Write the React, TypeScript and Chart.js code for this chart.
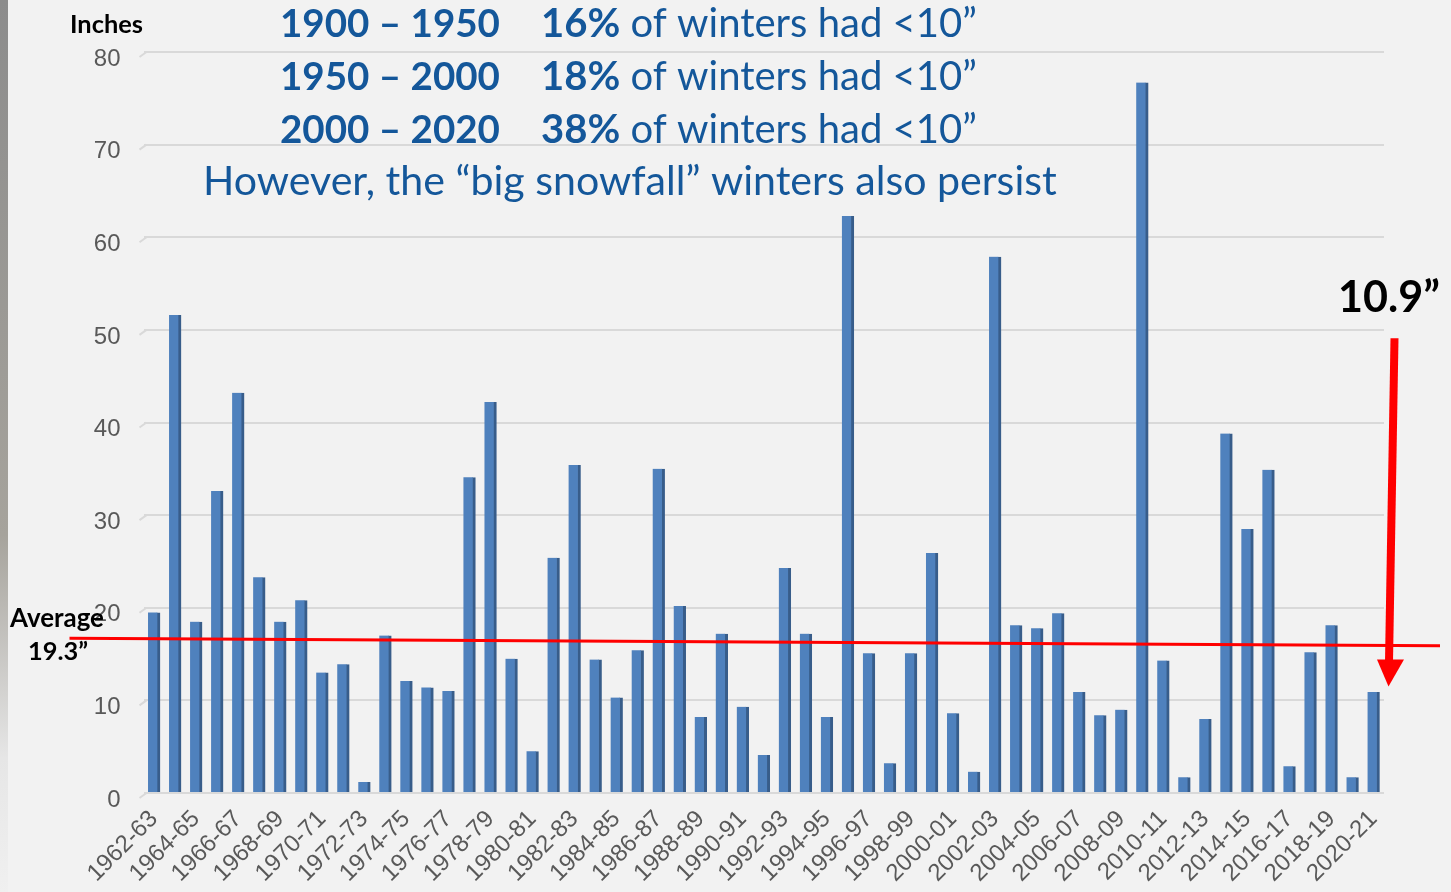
import React, { useEffect, useRef } from "react";
import { Chart, registerables } from "chart.js";

Chart.register(...registerables);

const seasons = [
  "1962-63", "1963-64", "1964-65", "1965-66", "1966-67", "1967-68", "1968-69", "1969-70",
  "1970-71", "1971-72", "1972-73", "1973-74", "1974-75", "1975-76", "1976-77", "1977-78",
  "1978-79", "1979-80", "1980-81", "1981-82", "1982-83", "1983-84", "1984-85", "1985-86",
  "1986-87", "1987-88", "1988-89", "1989-90", "1990-91", "1991-92", "1992-93", "1993-94",
  "1994-95", "1995-96", "1996-97", "1997-98", "1998-99", "1999-00", "2000-01", "2001-02",
  "2002-03", "2003-04", "2004-05", "2005-06", "2006-07", "2007-08", "2008-09", "2009-10",
  "2010-11", "2011-12", "2012-13", "2013-14", "2014-15", "2015-16", "2016-17", "2017-18",
  "2018-19", "2019-20", "2020-21",
];

const snowfallInches = [
  19.5, 51.6, 18.5, 32.6, 43.2, 23.3, 18.5, 20.8, 13.0, 13.9,
  1.2, 17.0, 12.1, 11.4, 11.0, 34.1, 42.2, 14.5, 4.5, 25.4,
  35.4, 14.4, 10.3, 15.4, 35.0, 20.2, 8.2, 17.2, 9.3, 4.1,
  24.3, 17.2, 8.2, 62.3, 15.1, 3.2, 15.1, 25.9, 8.6, 2.3,
  57.9, 18.1, 17.8, 19.4, 10.9, 8.4, 9.0, 76.7, 14.3, 1.7,
  8.0, 38.8, 28.5, 34.9, 2.9, 15.2, 18.1, 1.7, 10.9,
];

const yAxisMin = 0;
const yAxisMax = 80;
const yAxisStep = 10;
const yAxisTitle = "Inches";

// red "average" line as drawn in the slide (start / end values on the y scale)
const averageLineValues = [16.7, 15.9];
const averageLabelLines = ["Average", "19.3”"];

// red arrow pointing at the latest season
const arrowValues = [49.1, 11.5];
const latestLabel = "10.9”";

const periodLabels = ["1900 – 1950", "1950 – 2000", "2000 – 2020"];
const periodShares = ["16%", "18%", "38%"];
const periodSuffix = " of winters had <10”";
const closingNote = "However, the “big snowfall” winters also persist";

const BLUE_TEXT = "#14579a";
const TEXT_FAMILY = "Lato, 'Noto Sans', sans-serif";

type Seg = { text: string; bold: boolean };

function drawFitted(
  ctx: CanvasRenderingContext2D,
  segs: Seg[],
  x: number,
  baseline: number,
  targetWidth: number,
  color: string
) {
  const base = 40;
  let w = 0;
  segs.forEach((s) => {
    ctx.font = `${s.bold ? "bold " : ""}${base}px ${TEXT_FAMILY}`;
    w += ctx.measureText(s.text).width;
  });
  const size = (base * targetWidth) / w;
  let cx = x;
  ctx.fillStyle = color;
  ctx.textAlign = "left";
  ctx.textBaseline = "alphabetic";
  segs.forEach((s) => {
    ctx.font = `${s.bold ? "bold " : ""}${size}px ${TEXT_FAMILY}`;
    ctx.fillText(s.text, cx, baseline);
    cx += ctx.measureText(s.text).width;
  });
}

const overlayPlugin = {
  id: "overlay",
  afterDraw(chart: any) {
    const ctx: CanvasRenderingContext2D = chart.ctx;
    const y = chart.scales.y;
    const area = chart.chartArea;
    ctx.save();

    // 3D-style slanted stubs at the left of each gridline
    ctx.strokeStyle = "#d9d9d9";
    ctx.lineWidth = 2;
    for (let v = yAxisMin; v <= yAxisMax; v += yAxisStep) {
      const py = y.getPixelForValue(v);
      ctx.beginPath();
      ctx.moveTo(area.left - 4, py + 5);
      ctx.lineTo(area.left + 3, py);
      ctx.stroke();
    }

    // average line
    ctx.strokeStyle = "#ff0000";
    ctx.lineWidth = 3;
    ctx.beginPath();
    ctx.moveTo(area.left - 74, y.getPixelForValue(averageLineValues[0]));
    ctx.lineTo(area.right + 56, y.getPixelForValue(averageLineValues[1]));
    ctx.stroke();

    // arrow
    const top = y.getPixelForValue(arrowValues[0]);
    const tip = y.getPixelForValue(arrowValues[1]);
    const headTop = tip - 27;
    ctx.strokeStyle = "#ff0000";
    ctx.lineWidth = 8;
    ctx.beginPath();
    ctx.moveTo(area.right + 10.5, top);
    ctx.lineTo(area.right + 5, headTop + 2);
    ctx.stroke();
    ctx.fillStyle = "#ff0000";
    ctx.beginPath();
    ctx.moveTo(area.right - 7, headTop);
    ctx.lineTo(area.right + 20, headTop);
    ctx.lineTo(area.right + 4.5, tip);
    ctx.closePath();
    ctx.fill();

    // texts
    drawFitted(ctx, [{ text: yAxisTitle, bold: true }], 70, 33, 73, "#000000");
    const baselines = [37, 90, 143];
    periodLabels.forEach((p, i) => {
      drawFitted(ctx, [{ text: p, bold: true }], 280, baselines[i], 220, BLUE_TEXT);
      drawFitted(
        ctx,
        [
          { text: periodShares[i], bold: true },
          { text: periodSuffix, bold: false },
        ],
        541,
        baselines[i],
        436,
        BLUE_TEXT
      );
    });
    drawFitted(ctx, [{ text: closingNote, bold: false }], 203, 195, 854, BLUE_TEXT);
    drawFitted(ctx, [{ text: latestLabel, bold: true }], 1338, 312, 102, "#000000");
    drawFitted(ctx, [{ text: averageLabelLines[0], bold: true }], 10, 627, 94, "#000000");
    drawFitted(ctx, [{ text: averageLabelLines[1], bold: true }], 28, 660, 60, "#000000");

    ctx.restore();
  },
};

export default function App() {
  const canvasRef = useRef<HTMLCanvasElement | null>(null);

  useEffect(() => {
    document.body.style.margin = "0";
    document.body.style.background = "#f2f2f2";
    const canvas = canvasRef.current;
    if (!canvas) return;
    const chart = new Chart(canvas, {
      type: "bar",
      data: {
        labels: seasons,
        datasets: [
          {
            label: "Snowfall",
            data: snowfallInches,
            backgroundColor: "#4f81bd",
            borderColor: "#385d8a",
            borderWidth: { left: 0, right: 3, top: 0, bottom: 0 },
            borderSkipped: "start",
            barThickness: 12,
          },
        ],
      },
      options: {
        animation: false,
        responsive: false,
        maintainAspectRatio: false,
        layout: { padding: { left: 0, right: 67, top: 52, bottom: 0 } },
        plugins: {
          legend: { display: false },
          title: { display: false },
          tooltip: { enabled: false },
        },
        scales: {
          x: {
            afterFit: (scale: any) => {
              scale.height = 99;
            },
            grid: { display: false },
            border: { display: false },
            ticks: {
              autoSkip: false,
              maxRotation: 45,
              minRotation: 45,
              padding: 4,
              color: "#595959",
              font: { family: "'Liberation Sans', Arial, sans-serif", size: 24 },
              callback: (_v: any, i: number) => (i % 2 === 0 ? seasons[i] : ""),
            },
          },
          y: {
            min: yAxisMin,
            max: yAxisMax,
            afterFit: (scale: any) => {
              scale.width = 143.5;
            },
            border: { display: false },
            grid: { color: "#d9d9d9", lineWidth: 2, drawTicks: false },
            ticks: {
              stepSize: yAxisStep,
              padding: 23,
              labelOffset: 7,
              color: "#595959",
              font: { family: "'Liberation Sans', Arial, sans-serif", size: 24 },
            },
          },
        },
      },
      plugins: [overlayPlugin],
    });
    return () => chart.destroy();
  }, []);

  return (
    <div
      style={{
        position: "relative",
        width: 1451,
        height: 892,
        background: "#f2f2f2",
        overflow: "hidden",
      }}
    >
      <div
        style={{
          position: "absolute",
          left: 0,
          top: 0,
          width: 8,
          height: 892,
          background: "linear-gradient(#8c8c8c, #a6a39c 60%, #e6e6e6 85%, #f0f0f0)",
        }}
      />
      <canvas
        ref={canvasRef}
        width={1451}
        height={892}
        style={{ position: "absolute", left: 0, top: 0, display: "block" }}
      />
    </div>
  );
}
